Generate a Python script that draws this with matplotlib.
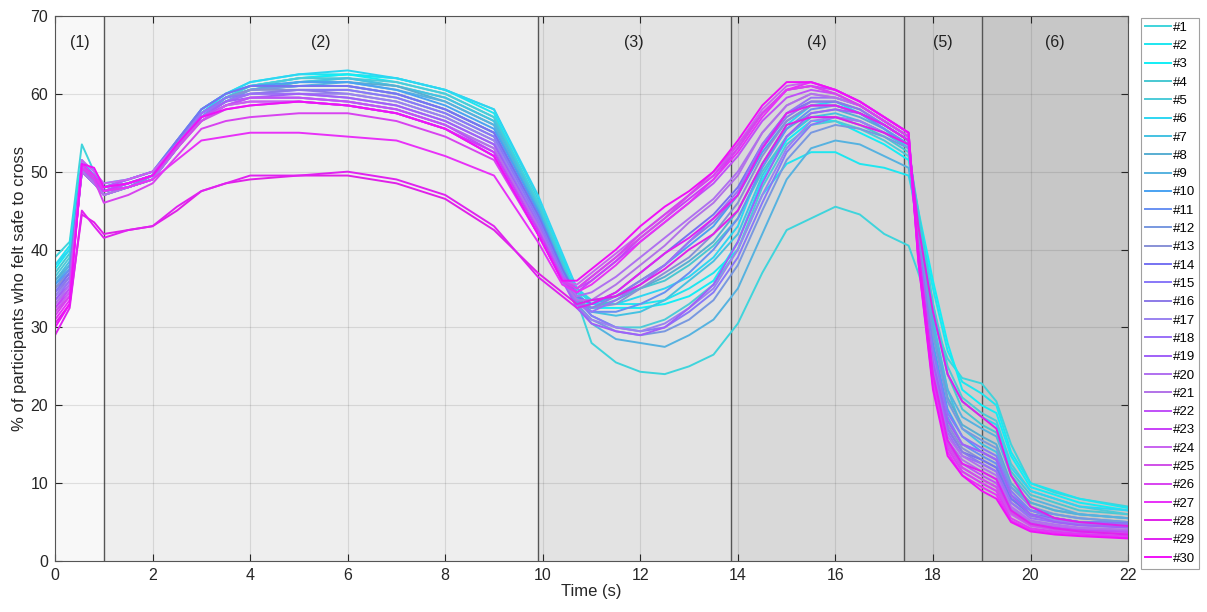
import numpy as np
import matplotlib
matplotlib.use("Agg")
from matplotlib import pyplot as plt

plt.rcParams['font.family'] = ['Liberation Sans', 'DejaVu Sans']

# time knots (s)
t = [0, 0.3, 0.55, 0.8, 1.0, 1.5, 2.0, 2.5, 3.0, 3.5, 4.0, 5.0, 6.0, 7.0, 8.0, 9.0,
     9.9, 10.4, 10.7, 11.0, 11.5, 12.0, 12.5, 13.0, 13.5, 14.0, 14.5, 15.0, 15.5, 16.0,
     16.5, 17.0, 17.5, 17.7, 18.0, 18.3, 18.6, 19.0, 19.3, 19.6, 20.0, 20.5, 21.0, 22.0]

s1 = [39, 41, 53.5, 50, 48, 48.5, 49.5, 53, 58, 60, 61, 62, 62.5, 62, 60.5, 58, 46.5, 39, 33.5, 28, 25.5, 24.3, 24, 25, 26.5, 30.5, 37, 42.5, 44, 45.5, 44.5, 42, 40.5, 37, 31, 26, 23.5, 22.8, 20.5, 15, 10, 8.8, 8, 7]
s2 = [38, 40.5, 51.5, 49.5, 48, 48.5, 49.5, 53.5, 57.5, 60, 61.5, 62.5, 62.5, 62, 60.5, 57.5, 46, 39, 35, 33.5, 33, 33, 33.5, 35, 37, 40, 47, 51, 52.5, 52.5, 51, 50.5, 49.5, 44, 35, 27, 23, 21.5, 20, 14, 10, 9, 8, 6.8]
s3 = [37.5, 40, 51, 49.5, 48.5, 49, 50, 53, 57, 59.5, 61, 62, 62.5, 61.5, 60, 57, 45.5, 38.5, 34.5, 32.5, 32.5, 32.5, 33, 34, 36, 41, 49, 54, 56.5, 56.5, 55, 53.5, 51.5, 45, 36, 28, 22, 20, 19, 13.5, 9.5, 8.5, 7.5, 6.5]
s4 = [37, 39.5, 50.5, 49, 48, 48.5, 49.5, 53.5, 57.5, 59.5, 60.5, 61.5, 62, 61, 59.5, 56.5, 45.5, 38, 34.5, 33.5, 34, 35, 36, 38, 40.5, 44, 50, 54.5, 57, 57, 56, 54.5, 52.5, 45, 33, 24, 19.5, 17.5, 16.5, 11.5, 8.5, 7.5, 6.5, 6]
s5 = [36.5, 39, 50, 48.5, 47.5, 48, 49, 53, 57, 59.5, 61, 62, 62, 61.5, 60, 57, 46, 38.5, 34, 31.5, 30, 30, 31, 33, 35.5, 40, 48, 53.5, 56, 56.5, 55.5, 54, 52, 44, 33, 25, 21, 19, 18, 12.5, 9, 8, 7, 6]
s6 = [38, 40, 51, 49, 48, 49, 50, 54, 58, 60, 61.5, 62.5, 63, 62, 60.5, 58, 47, 39.5, 35, 33, 33, 34, 35, 36.5, 39, 43, 51, 56, 58.5, 59, 57.5, 55.5, 53, 44, 32, 24, 20.5, 18.5, 17.5, 12, 9, 8, 7, 6.5]
s7 = [36, 38.5, 50.5, 49, 47.5, 48, 49.5, 53, 57, 59.5, 60.5, 61.5, 62, 61, 59.5, 56.5, 45.5, 38, 34, 32, 31.5, 32, 33.5, 36, 38.5, 42, 49.5, 54.5, 57, 57.5, 56.5, 55, 53, 44, 31, 22, 17, 15, 14, 9.5, 7.5, 6.5, 6, 5.5]
s8 = [36, 38, 50, 48.5, 47.5, 48, 49, 53, 57.5, 59.5, 60.5, 61.5, 61.5, 61, 59, 56, 45, 37.5, 33.5, 32.5, 33.5, 35, 36.5, 38.5, 41, 45, 51, 55.5, 57.5, 58, 57, 55.5, 53.5, 43, 30, 21, 17.5, 16, 15, 10, 7.5, 6.5, 6, 5.5]
s9 = [35.5, 38, 50, 48.5, 47, 48, 49, 53, 57, 59, 60.5, 61, 61.5, 60.5, 59, 56, 45, 37.5, 33, 30.5, 28.5, 28, 27.5, 29, 31, 35, 42, 49, 53, 54, 53.5, 52, 50.5, 42, 30, 22, 18.5, 17, 16, 11, 8, 7, 6, 5.5]
s10 = [35.5, 37.5, 50.5, 49, 47.5, 48.5, 49.5, 54, 58, 60, 61, 61.5, 61.5, 60.5, 58.5, 55.5, 45, 37.5, 34, 33, 34, 36, 38, 40.5, 43, 47, 52.5, 56.5, 58.5, 58.5, 57.5, 56, 54, 42, 28, 19.5, 16, 14, 13, 8.5, 6.5, 6, 5.5, 5]
s11 = [35, 37.5, 50, 48.5, 47.5, 48, 49.5, 53.5, 57.5, 59.5, 60.5, 61, 61, 60, 58, 55, 44.5, 37, 33.5, 32, 32, 33, 34.5, 37, 40, 44, 50.5, 55.5, 58, 58.5, 57.5, 55.5, 53.5, 41, 27, 18.5, 15, 13.5, 12.5, 8, 6.5, 5.5, 5, 5]
s12 = [35, 37, 50, 48.5, 47, 48, 49, 53, 57, 59, 60.5, 61, 61, 60, 58, 55, 44.5, 37, 33, 31, 29.5, 29, 29.5, 31, 33.5, 38, 45, 51.5, 55, 56, 55.5, 54.5, 53, 42, 29, 20.5, 17, 15.5, 14.5, 9.5, 7, 6, 5.5, 5]
s13 = [35, 37, 50.5, 49, 47.5, 48.5, 49.5, 54, 57.5, 59.5, 60.5, 60.5, 60.5, 59.5, 57.5, 54.5, 44, 37, 33.5, 32.5, 33, 35, 37, 39, 42, 46, 52, 56.5, 58.5, 58.5, 57.5, 56, 54, 41, 26, 17.5, 14.5, 13, 12, 8, 6, 5.5, 5, 4.8]
s14 = [34.5, 37, 51, 49.5, 48, 49, 50, 54, 58, 60, 61, 61, 61, 60, 58, 55, 44.5, 37.5, 34, 33, 34.5, 37, 39.5, 42, 44.5, 48, 53.5, 57.5, 59, 59, 58, 56, 54, 40.5, 25.5, 17, 14, 13, 12, 8, 6, 5.5, 5, 4.8]
s15 = [34.5, 36.5, 50.5, 49, 47.5, 48.5, 49.5, 53.5, 57.5, 59.5, 60, 60.5, 60.5, 59.5, 57.5, 54.5, 44, 37, 33.5, 31.5, 30, 29.5, 30, 32, 34.5, 39, 46, 52.5, 56, 57, 56.5, 55, 53.5, 41, 27, 19, 16, 14.5, 13.5, 9, 6.5, 5.5, 5, 4.8]
s16 = [34, 36.5, 50, 48.5, 47.5, 48, 49.5, 53.5, 57, 59, 60, 60.5, 60, 59, 57, 54, 43.5, 36.5, 33, 32.5, 34, 36, 38, 41, 43.5, 47, 53, 57, 59, 59, 58, 56, 54, 40.5, 25.5, 17, 14, 12.5, 11.5, 7.5, 5.8, 5.2, 4.8, 4.5]
s17 = [34, 36, 50, 48.5, 47, 48, 49, 53, 57, 59, 60, 60, 60, 59, 57, 54, 43.5, 36.5, 32.5, 31, 30, 29.5, 30.5, 32.5, 35, 40, 47, 53, 56.5, 57, 56.5, 55, 53.5, 40, 26, 18, 15, 14, 13, 8.5, 6, 5.2, 4.8, 4.5]
s18 = [33.5, 36, 50.5, 49, 47.5, 48.5, 49.5, 53.5, 57.5, 59, 60, 60, 59.5, 58.5, 56.5, 53.5, 43.5, 36.5, 33, 32, 33.5, 35.5, 38, 41, 44, 47.5, 53.5, 57.5, 59.5, 59.5, 58.5, 56.5, 54.5, 40.5, 25, 16.5, 13.5, 12.5, 11.5, 7.5, 5.5, 5, 4.6, 4.3]
s19 = [33.5, 35.5, 50, 48.5, 47, 48, 49, 53, 57, 59, 59.5, 60, 59.5, 58.5, 56.5, 53.5, 43, 36, 32.5, 30.5, 29.5, 29, 30, 32.5, 35.5, 41, 48.5, 54.5, 57.5, 58, 57.5, 56, 54, 40, 25.5, 18, 15, 14, 13, 8.5, 6, 5, 4.6, 4.3]
s20 = [33, 35.5, 50.5, 49, 47.5, 48.5, 49.5, 53.5, 57, 58.5, 59.5, 59.5, 59, 58, 56, 53, 43, 36.5, 34, 34.5, 36.5, 39, 41.5, 44, 46.5, 50, 55, 58.5, 60, 59.5, 58.5, 56.5, 54.5, 40, 24.5, 16, 13.5, 12, 11, 7, 5.2, 4.7, 4.3, 4]
s21 = [33, 35, 50, 48.5, 47, 48, 49, 53, 56.5, 58.5, 59.5, 59.5, 59, 58, 56, 53, 43, 36, 33.5, 33.5, 35.5, 38, 40.5, 43.5, 46, 49.5, 55, 58.5, 60, 59.5, 58.5, 56.5, 54.5, 40, 24, 15.5, 13, 11.5, 10.5, 6.8, 5, 4.5, 4.2, 4]
s22 = [32.5, 35, 51, 49.5, 48, 49, 50, 53.5, 57, 58.5, 59.5, 59.5, 59, 58, 56, 52.5, 42.5, 36.5, 35, 36, 38.5, 41, 43.5, 46, 48.5, 52, 56.5, 59.5, 60.5, 60, 58.5, 56.5, 54.5, 39.5, 23.5, 15, 12.5, 11, 10, 6.5, 4.8, 4.3, 4, 3.8]
s23 = [32.5, 34.5, 50.5, 49, 47.5, 48.5, 49.5, 53, 56.5, 58.5, 59, 59, 58.5, 57.5, 55.5, 52.5, 42.5, 36, 34.5, 36, 38.5, 41.5, 44, 46.5, 49, 53, 57.5, 60.5, 61, 60.5, 59, 57, 55, 39.5, 23.5, 15, 12, 10.5, 9.5, 6.2, 4.6, 4.2, 3.9, 3.6]
s24 = [32, 34.5, 51.5, 50, 48.5, 49, 50, 53.5, 56.5, 58.5, 59, 59, 58.5, 57.5, 55.5, 52, 42, 36, 35.5, 37, 39.5, 42, 44.5, 47, 49.5, 53.5, 58, 61, 61.5, 60.5, 59, 57, 55, 39, 23, 14.5, 11.5, 10, 9, 6, 4.5, 4, 3.7, 3.5]
s25 = [32, 34, 50.5, 49.5, 48, 48.5, 49.5, 53, 56.5, 58, 58.5, 59, 58.5, 57.5, 55.5, 52, 42, 36, 35, 36.5, 39, 41.5, 44, 47, 50, 53.5, 57.5, 60.5, 61, 60, 58.5, 56.5, 54.5, 39.5, 23.5, 15, 12, 10.5, 9.5, 6.2, 4.6, 4.1, 3.8, 3.5]
s26 = [31.5, 34, 50.5, 49, 46, 47, 48.5, 52, 55.5, 56.5, 57, 57.5, 57.5, 56.5, 54.5, 51.5, 42, 36, 35, 36.5, 39, 42, 44.5, 47, 49.5, 53, 57.5, 60.5, 61, 60, 58.5, 56.5, 54.5, 39, 23, 14.5, 11.5, 10, 9, 5.5, 4.2, 3.8, 3.5, 3.2]
s27 = [31, 33.5, 51, 49.5, 47.5, 48, 49, 51.5, 54, 54.5, 55, 55, 54.5, 54, 52, 49.5, 41, 35.5, 34.5, 35.5, 38, 41, 43.5, 46, 49, 52.5, 57, 60.5, 61.5, 60.5, 59, 57, 55, 38.5, 22.5, 14, 11, 9.5, 8.5, 5.2, 4, 3.6, 3.4, 3]
s28 = [30.5, 33, 44.5, 43.5, 42, 42.5, 43, 45, 47.5, 48.5, 49, 49.5, 49.5, 48.5, 46.5, 42.5, 37, 34.5, 33, 33.5, 34, 35.5, 37.5, 40, 42, 45, 51, 56, 57, 57, 56, 55, 53.5, 43, 32, 24, 20.5, 18.5, 17, 11, 7, 5.5, 5, 4.5]
s29 = [29, 32.5, 45, 43, 41.5, 42.5, 43, 45.5, 47.5, 48.5, 49.5, 49.5, 50, 49, 47, 43, 36.5, 34, 32.5, 33, 34.5, 37, 39.5, 41.5, 44, 47, 53, 57.5, 58.5, 58.5, 57.5, 56, 54, 40, 24, 15.5, 12.5, 11.5, 10.5, 6.5, 4.8, 4.2, 3.8, 3.4]
s30 = [30, 33, 51, 50.5, 48, 48.5, 49.5, 53.5, 57, 58, 58.5, 59, 58.5, 57.5, 55.5, 52, 42, 36, 36, 37.5, 40, 43, 45.5, 47.5, 50, 54, 58.5, 61.5, 61.5, 60.5, 59, 57, 55, 38.5, 22, 13.5, 11, 9, 8, 5, 3.8, 3.4, 3.2, 2.9]

series = [s1, s2, s3, s4, s5, s6, s7, s8, s9, s10, s11, s12, s13, s14, s15,
          s16, s17, s18, s19, s20, s21, s22, s23, s24, s25, s26, s27, s28, s29, s30]
labels = [f'#{i}' for i in range(1, 31)]

colors = ['#3fd4dc', '#1ee6f0', '#12eef6', '#48c8d2', '#4ccbd8', '#2ed6f2', '#44c2e2', '#58aed2',
          '#56b2e0', '#4aa2f2', '#6890f2', '#7898e0', '#8890d6', '#7672f2', '#8878f8', '#8c7ae8',
          '#9a82f0', '#9a70f8', '#a060f8', '#b070f0', '#b272e8', '#c050f8', '#c840f8', '#c862f0',
          '#d050e8', '#d842f0', '#e830f8', '#e020e8', '#e022f0', '#f010f8']

# phase boundaries and labels
bounds = [0, 1.0, 9.9, 13.85, 17.4, 19.0, 22]
shades = ['#f8f8f8', '#eeeeee', '#e3e3e3', '#d9d9d9', '#cfcfcf', '#c7c7c7']
phases = ['(1)', '(2)', '(3)', '(4)', '(5)', '(6)']

fig = plt.figure(figsize=(12.07, 6.12), dpi=100)
ax = fig.add_axes([0.0456, 0.0833, 0.889, 0.8907])

for i in range(len(shades)):
    ax.axvspan(bounds[i], bounds[i + 1], color=shades[i], zorder=0.1, lw=0)
    ax.text((bounds[i] + bounds[i + 1]) / 2, 66.6, phases[i], ha='center', va='center',
            fontsize=11.5, color='#222222')
for b in bounds[1:-1]:
    ax.axvline(b, color='#555555', lw=1.0, zorder=0.3)

for y, c, lab in zip(series, colors, labels):
    ax.plot(t, y, color=c, lw=1.4, label=lab, zorder=2)

ax.set_xlim(0, 22)
ax.set_ylim(0, 70)
ax.set_xticks(np.arange(0, 23, 2))
ax.set_yticks(np.arange(0, 71, 10))
ax.set_axisbelow(True)
ax.grid(True, color='#262626', alpha=0.12, lw=0.8)
ax.tick_params(direction='in', top=True, right=True, length=5, width=0.8,
               labelsize=11.5, colors='#262626', pad=5)
for sp in ax.spines.values():
    sp.set_color('#555555')
    sp.set_linewidth(0.8)

ax.set_xlabel('Time (s)', fontsize=12, color='#262626', labelpad=1)
ax.set_ylabel('% of participants who felt safe to cross', fontsize=12, color='#262626', labelpad=2)

leg = ax.legend(loc='upper left', bbox_to_anchor=(1.012, 0.997), fontsize=9.5,
                handlelength=2.0, handletextpad=0.1, labelspacing=0.46, borderpad=0.3,
                frameon=True, fancybox=False, borderaxespad=0)
leg.get_frame().set_edgecolor('#888888')
leg.get_frame().set_linewidth(0.8)

fig.savefig('out.png', dpi=100)
